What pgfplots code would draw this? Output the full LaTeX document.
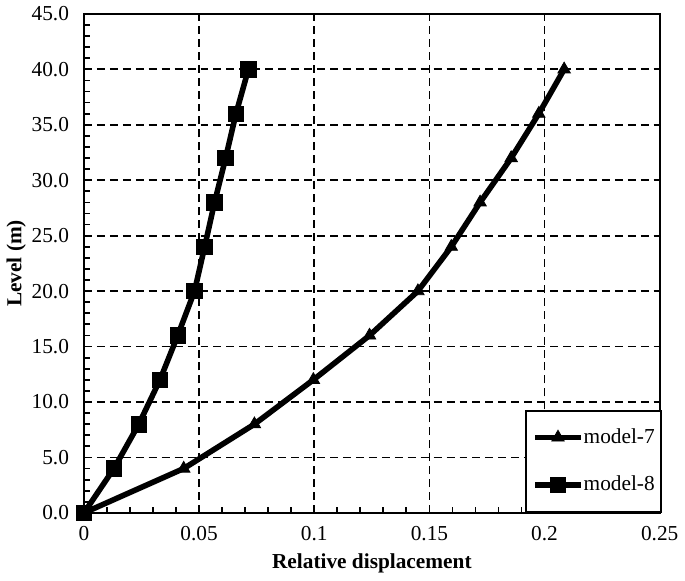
\documentclass[border=0pt]{standalone}
\usepackage{fontspec}
\setmainfont{Liberation Serif}
\usepackage{pgfplots}
\pgfplotsset{compat=1.18}

\begin{document}
\begin{tikzpicture}[font=\fontsize{10.7}{13}\selectfont]
\begin{axis}[
    scale only axis,
    width=289pt, height=250.5pt,
    xmin=0, xmax=0.25, ymin=0, ymax=45,
    xtick={0,0.05,0.1,0.15,0.2,0.25},
    xticklabels={0,0.05,0.1,0.15,0.2,0.25},
    ytick={0,5,...,45},
    yticklabel style={xshift=-4pt, /pgf/number format/fixed,
        /pgf/number format/fixed zerofill, /pgf/number format/precision=1},
    /pgf/number format/assume math mode=true,
    minor x tick num=4, minor y tick num=4,
    xtick pos=bottom, ytick pos=left,
    xtick align=inside, ytick align=inside,
    major tick length=3pt, minor tick length=3pt,
    every tick/.style={black, line width=0.9pt},
    every minor tick/.style={black, line width=0.9pt},
    axis line style={line width=1pt},
    xmajorgrids, ymajorgrids,
    major grid style={black, dash pattern=on 4pt off 2.5pt, line width=0.9pt},
    xlabel={\textbf{Relative displacement}},
    ylabel={\textbf{Level (m)}},
    xticklabel style={yshift=-3pt},
    ylabel style={yshift=-4pt},
    legend style={at={(1,0)}, anchor=south east, draw=black, line width=1pt,
        row sep=11pt, inner xsep=3pt, inner ysep=7pt, xshift=1pt,
        nodes={inner xsep=0pt, inner ysep=2pt}, column sep=0pt},
    legend cell align=left,
    legend image code/.code={
        \draw[#1, line width=2.8pt] (0pt,0pt) -- (23pt,0pt);
        \draw[#1, mark repeat=2, mark phase=2] plot coordinates {(0pt,0pt) (11.5pt,0pt) (23pt,0pt)};
    },
]
\addplot[black, line width=2.8pt, mark=triangle*, mark size=3.6pt,
    mark options={solid, line width=0.4pt}]
    coordinates {
    (0,0) (0.0433,4) (0.0740,8) (0.0996,12) (0.1240,16) (0.1450,20)
    (0.1595,24) (0.1720,28) (0.1855,32) (0.1975,36) (0.2085,40)
    };
\addlegendentry{model-7}
\addplot[black, line width=2.8pt, mark=square*, mark size=3.9pt,
    mark options={solid, line width=0.4pt}]
    coordinates {
    (0,0) (0.0130,4) (0.0238,8) (0.0330,12) (0.0407,16) (0.0480,20)
    (0.0524,24) (0.0567,28) (0.0615,32) (0.0660,36) (0.0714,40)
    };
\addlegendentry{model-8}
\end{axis}
\end{tikzpicture}
\end{document}
